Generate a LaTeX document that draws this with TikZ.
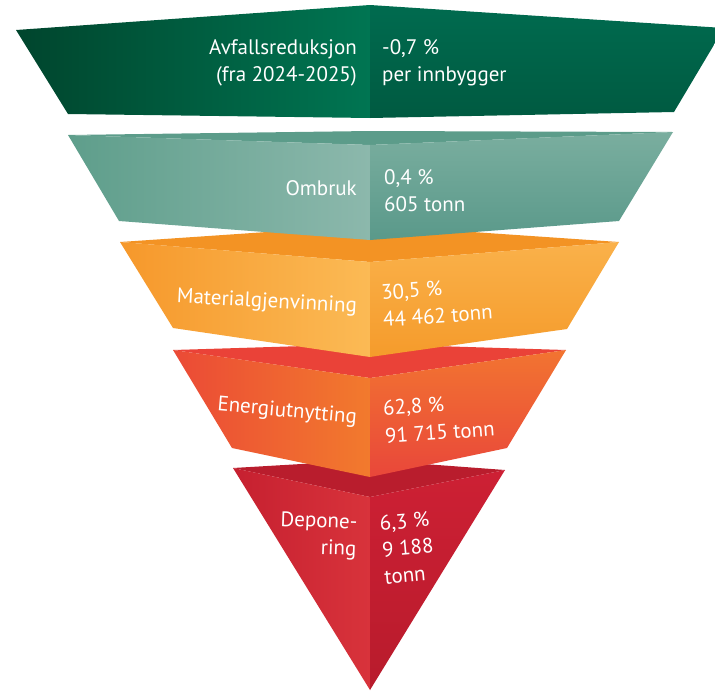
\documentclass[tikz,border=0pt]{standalone}
\usepackage{fontspec}
\setmainfont{PT Sans}
\usetikzlibrary{positioning}

\definecolor{greenL}{HTML}{00452D}
\definecolor{greenC}{HTML}{007552}
\definecolor{greenRt}{HTML}{006B4F}
\definecolor{greenRb}{HTML}{005A41}
\definecolor{tealBack}{HTML}{5C9C8A}
\definecolor{tealL}{HTML}{5E9E8B}
\definecolor{tealC}{HTML}{8CB8AC}
\definecolor{tealRt}{HTML}{7AAE9F}
\definecolor{tealRb}{HTML}{5A998A}
\definecolor{orangeBack}{HTML}{F39324}
\definecolor{orangeL}{HTML}{F6982B}
\definecolor{orangeC}{HTML}{FBBA55}
\definecolor{orangeRt}{HTML}{FAB14A}
\definecolor{orangeRb}{HTML}{F59B2B}
\definecolor{redBack}{HTML}{EA4238}
\definecolor{redL}{HTML}{EB4A36}
\definecolor{redC}{HTML}{F27A2D}
\definecolor{redRt}{HTML}{F27431}
\definecolor{redRb}{HTML}{E9473A}
\definecolor{darkBack}{HTML}{B91D2D}
\definecolor{darkL}{HTML}{C62030}
\definecolor{darkC}{HTML}{D8333B}
\definecolor{darkRt}{HTML}{CD2034}
\definecolor{darkRb}{HTML}{B81B2C}

\begin{document}
\begin{tikzpicture}[x=1pt, y=-1pt, font=\fontsize{21}{27}\selectfont]

        % Setup the styles for the labels
        \tikzset{left label/.style={anchor=east, align=right,
                                    text=white, inner sep=0pt},
                 right label/.style={anchor=west, align=left,
                                     text=white, inner sep=0pt}}

        \useasboundingbox (0,0) rectangle (715,691);

        % Deponering (drawn first, the upper layers lie on it)
        \fill[darkBack] (233,468) -- (370,460) -- (505,470) -- (370,497) -- cycle;
        \shade[left color=darkL, right color=darkC] (233,468) -- (370,497) -- (370,690) -- cycle;
        \shade[top color=darkRt, bottom color=darkRb] (370,497) -- (505,470) -- (370,690) -- cycle;

        % Energiutnytting
        \fill[redBack] (173,350) -- (370,344) -- (566,350) -- (370,378) -- cycle;
        \shade[left color=redL, right color=redC] (173,350) -- (370,378) -- (370,477) -- (232,448) -- cycle;
        \shade[top color=redRt, bottom color=redRb] (370,378) -- (566,350) -- (507,448) -- (370,477) -- cycle;

        % Materialgjenvinning
        \fill[orangeBack] (120,242) -- (370,225) -- (619,242) -- (370,262) -- cycle;
        \shade[left color=orangeL, right color=orangeC] (120,242) -- (370,262) -- (370,357) -- (173,328) -- cycle;
        \shade[top color=orangeRt, bottom color=orangeRb] (370,262) -- (619,242) -- (567,329) -- (370,357) -- cycle;

        % Ombruk
        \fill[tealBack] (68,135) -- (370,131) -- (673,132) -- (370,145) -- cycle;
        \shade[left color=tealL, right color=tealC] (68,135) -- (370,145) -- (370,240) -- (119,221) -- cycle;
        \shade[top color=tealRt, bottom color=tealRb] (370,145) -- (673,132) -- (619,221) -- (370,240) -- cycle;

        % Avfallsreduksjon
        \shade[left color=greenL, right color=greenC] (16,30) -- (370,5) -- (370,118) -- (68,114) -- cycle;
        \shade[top color=greenRt, bottom color=greenRb] (370,5) -- (724,28) -- (674,112) -- (370,118) -- cycle;

        % Labels
        \node[left label]  at (357,63)  (avfall)      {Avfallsreduksjon\\(fra 2024-2025)};
        \node[right label] at (382,63)  (avfallval)   {-0,7 \%\\per innbygger};
        \node[left label]  at (357,188) (ombruk)      {Ombruk};
        \node[right label] at (384,191) (ombrukval)   {0,4 \%\\605 tonn};
        \node[left label, rotate=-3]  at (357,307) (material)    {Materialgjenvinning};
        \node[right label, rotate=4]  at (382,306) (materialval) {30,5 \%\\44 462 tonn};
        \node[left label, rotate=-5]  at (357,418) (energi)      {Energiutnytting};
        \node[right label, rotate=4]  at (384,422) (energival)   {62,8 \%\\[1pt]91 715 tonn};
        \node[left label, rotate=-2]  at (357,537) (depon)       {Depone-\\ring};
        \node[right label, rotate=5]  at (382,550) (deponval)    {6,3 \%\\9 188\\tonn};
    \end{tikzpicture}
\end{document}
